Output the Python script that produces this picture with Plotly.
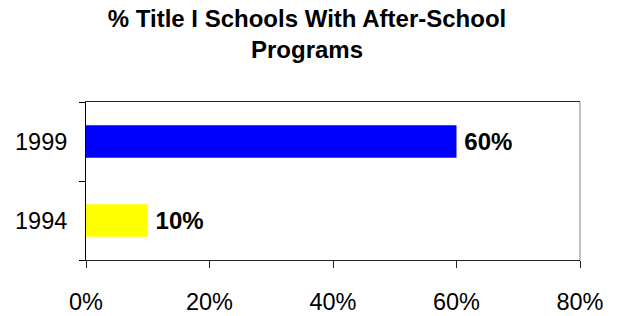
import plotly.graph_objects as go

categories = ["1994", "1999"]
values = [10, 60]
colors = ["#ffff00", "#0000ff"]
labels = ["10%", "60%"]
x_ticks = [0, 20, 40, 60, 80]
x_tick_labels = ["0%", "20%", "40%", "60%", "80%"]

FONT = "Liberation Sans, Arial, sans-serif"
W, H = 617, 316

fig = go.Figure()
fig.add_trace(go.Bar(
    y=categories, x=values, orientation="h",
    marker=dict(color=colors, line=dict(width=0)),
    width=0.41,
    text=labels, texttemplate="\u2009%{text}", textposition="outside",
    textfont=dict(family=FONT, size=24, color="black", weight="bold"),
    cliponaxis=False,
))

fig.update_layout(
    width=W, height=H,
    margin=dict(l=86, r=37, t=102, b=56),
    paper_bgcolor="white", plot_bgcolor="white",
    showlegend=False,
    font=dict(family=FONT, color="black"),
    title=dict(
        text="<b>% Title I Schools With After-School<br>Programs</b>",
        x=307 / W, xanchor="center", xref="container",
        y=1 - 27 / H, yanchor="top", yref="container",
        font=dict(size=24, family=FONT, color="black"),
    ),
    xaxis=dict(
        range=[0, 80], tickvals=x_ticks, ticktext=x_tick_labels,
        showgrid=False, zeroline=False, automargin=False,
        showline=True, linecolor="#222222", linewidth=1, mirror=True,
        ticks="outside", ticklen=7, tickcolor="#222222",
        tickfont=dict(size=23.5), ticklabelstandoff=14,
    ),
    yaxis=dict(
        categoryorder="array", categoryarray=categories,
        showgrid=False, zeroline=False, automargin=False,
        showline=True, linecolor="black", linewidth=1, mirror=False,
        ticks="outside", ticklen=6, tickson="boundaries", tickcolor="black",
        tickfont=dict(size=23.5), ticklabelstandoff=13,
    ),
    shapes=[dict(type="line", xref="paper", yref="paper", x0=1, x1=1, y0=0, y1=1,
                 line=dict(color="#808080", width=1))],
)

fig.write_html(
    "out.html",
    config={"displayModeBar": False},
    post_script="document.body.style.margin='0';document.body.style.overflow='hidden';",
)
